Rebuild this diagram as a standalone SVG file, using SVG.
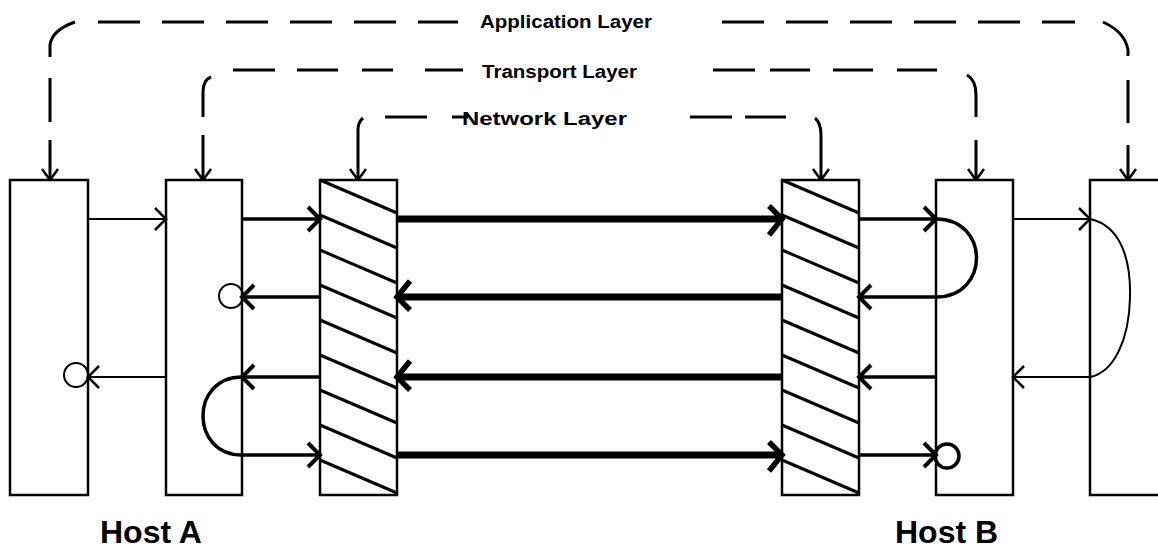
<svg xmlns="http://www.w3.org/2000/svg" width="1158" height="550" viewBox="0 0 1158 550">
<style>
.box{fill:#fff;stroke:#000;stroke-width:2.5}
.hatch{stroke:#000;stroke-width:3;fill:none}
.dash{stroke:#000;stroke-width:3;fill:none;stroke-linecap:butt}
.thin{stroke:#000;stroke-width:2;fill:none}
.med{stroke:#000;stroke-width:3.5;fill:none}
.thick{stroke:#000;stroke-width:7;fill:none}
.lbl{font-family:"Liberation Sans",Arial,sans-serif;font-weight:bold;fill:#000}
.layer{font-size:18px}
.host{font-size:32px}
</style>
<defs>
<marker id="ahThin" viewBox="-20 -20 40 40" markerWidth="40" markerHeight="40" refX="0" refY="0" orient="auto" markerUnits="userSpaceOnUse"><path d="M-11,-11 L0,0 L-11,11" fill="none" stroke="#000" stroke-width="2.5"/></marker>
<marker id="ahMed" viewBox="-20 -20 40 40" markerWidth="40" markerHeight="40" refX="0" refY="0" orient="auto" markerUnits="userSpaceOnUse"><path d="M-12,-12 L0,0 L-12,12" fill="none" stroke="#000" stroke-width="4"/></marker>
<marker id="ahThick" viewBox="-25 -25 50 50" markerWidth="50" markerHeight="50" refX="0" refY="0" orient="auto" markerUnits="userSpaceOnUse"><path d="M-13,-13 L0,0 L-13,16" fill="none" stroke="#000" stroke-width="5.5"/></marker>
<marker id="ahDown" viewBox="-20 -20 40 40" markerWidth="40" markerHeight="40" refX="0" refY="0" orient="auto" markerUnits="userSpaceOnUse"><path d="M-11,-8 L0,0 L-11,8" fill="none" stroke="#000" stroke-width="2.5"/></marker>
</defs>

<!-- Layer connectors (dashed) -->
<g id="layers">
  <g id="app-layer">
    <path class="dash" d="M98 22 H458 M722 22 H1075" stroke-dasharray="42 22"/>
    <path class="dash" d="M75 22 Q52 30 50 45 V57"/>
    <path class="dash" d="M50 78 V122 M50 140 V180" marker-end="url(#ahDown)"/>
    <path class="dash" d="M1103 22 Q1125 32 1128 50 V56"/>
    <path class="dash" d="M1128 80 V123 M1128 145 V180" marker-end="url(#ahDown)"/>
    <text class="lbl layer" x="480" y="28" textLength="172" lengthAdjust="spacingAndGlyphs">Application Layer</text>
  </g>
  <g id="transport-layer">
    <path class="dash" d="M233 70 H275 M297 70 H338 M362 70 H393 M425 70 H463 M713 70 H755 M770 70 H810 M833 70 H873 M897 70 H937"/>
    <path class="dash" d="M211 77 Q203 80 203 92 V117"/>
    <path class="dash" d="M203 135 V180" marker-end="url(#ahDown)"/>
    <path class="dash" d="M967 75 Q976 80 976 95 V117"/>
    <path class="dash" d="M976 140 V180" marker-end="url(#ahDown)"/>
    <text class="lbl layer" x="482" y="78" textLength="155" lengthAdjust="spacingAndGlyphs">Transport Layer</text>
  </g>
  <g id="network-layer">
    <path class="dash" d="M385 117 H427 M452 117 H468 M690 117 H732 M745 117 H786"/>
    <path class="dash" d="M363 118 Q358 122 358 130 V180" marker-end="url(#ahDown)"/>
    <path class="dash" d="M815 118 Q821 123 821 135 V180" marker-end="url(#ahDown)"/>
    <text class="lbl layer" x="462" y="125" textLength="165" lengthAdjust="spacingAndGlyphs">Network Layer</text>
  </g>
</g>

<!-- Nodes -->
<g id="appA"><rect class="box" x="10" y="180" width="78" height="315"/></g>
<g id="transportA"><rect class="box" x="166" y="180" width="76" height="315"/></g>
<g id="networkA">
  <rect class="box" x="320" y="180" width="77" height="315"/>
  <path class="hatch" d="M320 180 L397 213 M320 215 L397 248 M320 250 L397 283 M320 285 L397 318 M320 320 L397 353 M320 355 L397 388 M320 390 L397 423 M320 425 L397 458 M320 460 L397 493"/>
</g>
<g id="networkB">
  <rect class="box" x="782" y="180" width="77" height="315"/>
  <path class="hatch" d="M782 180 L859 213 M782 215 L859 248 M782 250 L859 283 M782 285 L859 318 M782 320 L859 353 M782 355 L859 388 M782 390 L859 423 M782 425 L859 458 M782 460 L859 493"/>
</g>
<g id="transportB"><rect class="box" x="936" y="180" width="77" height="315"/></g>
<g id="appB"><rect class="box" x="1090" y="180" width="80" height="315"/></g>

<!-- Connectors -->
<g id="connectors">
  <!-- row 1 -->
  <path class="thin" d="M88 219 H166" marker-end="url(#ahThin)"/>
  <path class="med" d="M242 219 H320" marker-end="url(#ahMed)"/>
  <path class="thick" d="M397 219 H782" marker-end="url(#ahThick)"/>
  <path class="med" d="M859 219 H936" marker-end="url(#ahMed)"/>
  <path class="med" d="M936 219 C990 219 990 297 936 297 H859" marker-end="url(#ahMed)"/>
  <path class="thin" d="M1013 219 H1090" marker-end="url(#ahThin)"/>
  <path class="thin" d="M1090 219 C1122 226 1131 262 1130 298 C1129 338 1115 372 1090 377 H1013" marker-end="url(#ahThin)"/>
  <!-- row 2 -->
  <path class="thick" d="M782 297 H397" marker-end="url(#ahThick)"/>
  <path class="med" d="M320 297 H242" marker-end="url(#ahMed)"/>
  <circle class="thin" cx="231" cy="296" r="12" stroke-width="3"/>
  <!-- row 3 -->
  <path class="thin" d="M166 377 H88" marker-end="url(#ahThin)"/>
  <circle class="thin" cx="76" cy="375" r="12" stroke-width="2.5"/>
  <path class="med" d="M936 377 H859" marker-end="url(#ahMed)"/>
  <path class="thick" d="M782 377 H397" marker-end="url(#ahThick)"/>
  <path class="med" d="M320 377 H242" marker-end="url(#ahMed)"/>
  <!-- row 4 -->
  <path class="med" d="M242 377 C190 377 190 455 242 455 H320" marker-end="url(#ahMed)"/>
  <path class="thick" d="M397 455 H782" marker-end="url(#ahThick)"/>
  <path class="med" d="M859 455 H936" marker-end="url(#ahMed)"/>
  <circle class="med" cx="947" cy="456" r="12"/>
</g>

<text class="lbl host" x="100" y="543">Host A</text>
<text class="lbl host" x="895" y="543">Host B</text>
</svg>
